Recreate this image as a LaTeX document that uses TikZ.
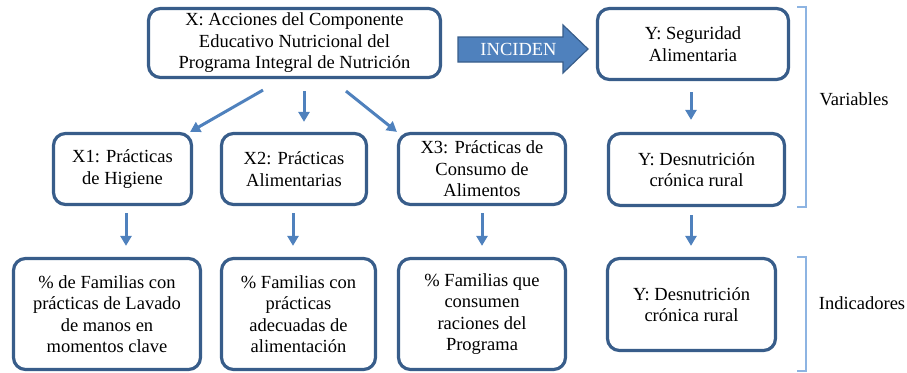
\documentclass[tikz,border=0pt]{standalone}
\usepackage{fontspec}
\setmainfont{LiberationSerif}[Extension=.ttf,UprightFont=*-Regular,BoldFont=*-Bold,ItalicFont=*-Italic,BoldItalicFont=*-BoldItalic]
\usetikzlibrary{arrows.meta}
\definecolor{bordeazul}{RGB}{56,93,138}
\definecolor{flechaazul}{RGB}{79,129,189}
\definecolor{corcheteazul}{RGB}{141,180,226}
\begin{document}
\begin{tikzpicture}
[x=1pt,y=-1pt,
  nodedecorate/.style={shape=rectangle,rounded corners=12pt,draw=bordeazul,line width=3.2pt,
    align=center,inner sep=0pt,font=\rmfamily\fontsize{18.5}{21.5}\selectfont},%
  linedecorate/.style={-{Triangle[width=11pt,length=10pt]},line width=3pt,draw=flechaazul},%
  bracketdecorate/.style={line width=2.2pt,draw=corcheteazul},%
  textdecorate/.style={font=\rmfamily\fontsize{18.5}{21.5}\selectfont}]
\useasboundingbox (0,0) rectangle (907,372);
%% nodes or vertices
\foreach \nodename/\x/\y/\w/\h/\texto in {
  accion/294.5/43/295/72/{X: Acciones del Componente\\Educativo Nutricional del\\Programa Integral de Nutrición},
  y1/693/44/194/74/{Y: Seguridad\\Alimentaria},
  y2/696.5/169.5/179/75/{Y: Desnutrición\\crónica rural},
  x1/122.5/169/141/74/{X1: Prácticas\\de Higiene},
  x2/294/169/148/74/{X2: Prácticas\\Alimentarias},
  x3/482/169/170/74/{X3: Prácticas de\\Consumo de\\Alimentos},
  i1/107/314/190/114/{\% de Familias con\\prácticas de Lavado\\de manos en\\momentos clave},
  i2/298.5/314/157/114/{\% Familias con\\prácticas\\adecuadas de\\alimentación},
  i3/482/314/170/114/{\% Familias que\\consumen\\raciones del\\Programa},
  iy/691.5/304.5/171/95/{Y: Desnutrición\\crónica rural}} {
  \node (\nodename) at (\x,\y) [nodedecorate,minimum width=\w pt-3pt,minimum height=\h pt-3pt] {\texto};
}
%% big arrow
\fill[flechaazul,draw=bordeazul,line width=1.2pt] (458,37) -- (563,37) -- (563,25) -- (588,49)
  -- (563,73) -- (563,62) -- (458,62) -- cycle;
\node (inciden) at (518.5,49.5) [textdecorate,text=white] {INCIDEN};
%% brackets and labels
\draw[bracketdecorate] (797,7) -- (806,7) -- (806,207) -- (797,207);
\draw[bracketdecorate] (797,257) -- (806,257) -- (806,371) -- (797,371);
\node (variables) at (854,99) [textdecorate] {Variables};
\node (indicadores) at (862,303) [textdecorate] {Indicadores};
%% edges or lines
\draw[linedecorate] ([xshift=-31.5pt,yshift=-11pt]accion.south) -- ([xshift=-3pt]x1.north east);
\draw[linedecorate] ([xshift=9.5pt,yshift=-12pt]accion.south) -- ([xshift=10pt,yshift=10pt]x2.north);
\draw[linedecorate] ([xshift=51.5pt,yshift=-12pt]accion.south) -- (x3.north west);
\draw[linedecorate] ([xshift=3.5pt,yshift=-7pt]x1.south) -- ([xshift=19pt,yshift=11pt]i1.north);
\draw[linedecorate] ([xshift=-1pt,yshift=-7pt]x2.south) -- ([xshift=-5.5pt,yshift=11pt]i2.north);
\draw[linedecorate] ([yshift=-7pt]x3.south) -- ([yshift=11pt]i3.north);
\draw[linedecorate] ([xshift=-2pt,yshift=-11pt]y1.south) -- ([xshift=-5.5pt,yshift=12pt]y2.north);
\draw[linedecorate] ([xshift=-5.5pt,yshift=-8pt]y2.south) -- ([xshift=-0.5pt,yshift=11pt]iy.north);
\end{tikzpicture}
\end{document}
